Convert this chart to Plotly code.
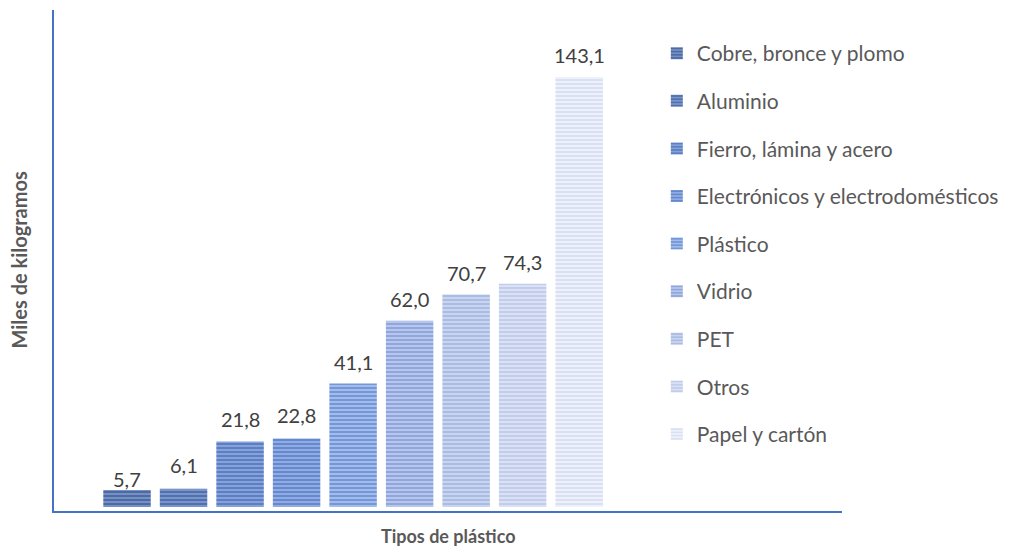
import plotly.graph_objects as go

# Materials and weights (thousands of kilograms)
categorias = [
    "Cobre, bronce y plomo",
    "Aluminio",
    "Fierro, lámina y acero",
    "Electrónicos y electrodomésticos",
    "Plástico",
    "Vidrio",
    "PET",
    "Otros",
    "Papel y cartón",
]
valores = [5.7, 6.1, 21.8, 22.8, 41.1, 62.0, 70.7, 74.3, 143.1]

# Stripe colours, dark to light blue
colores_linea = ["#25467F", "#284D92", "#2F5CAC", "#3666BD", "#4472C4",
                 "#6787CE", "#8CA2D9", "#AAB9E4", "#C6CFEE"]
colores_fondo = ["#768FC4", "#7B94CA", "#87A2D9", "#92ACE1", "#A3BCEB",
                 "#B7C6EA", "#C9D4EF", "#DAE1F4", "#EEF1FA"]
# vertical nudge of each value label (px)
desplaz_etiqueta = [-3, 10, 9, 9, 8, 8, 8, 8, 8]

FUENTE = "Lato"

fig = go.Figure()
for i, (cat, v) in enumerate(zip(categorias, valores)):
    fig.add_trace(go.Bar(
        x=[i], y=[v], name=cat, width=0.84,
        legendgroup=f"g{i}",
        marker=dict(
            color=colores_fondo[i],
            line=dict(width=0),
            pattern=dict(shape="-", fgcolor=colores_linea[i],
                         bgcolor=colores_fondo[i], size=4, solidity=0.5,
                         fillmode="overlay"),
        ),
        hoverinfo="skip",
    ))
    fig.add_annotation(
        x=i, y=v, text=f"{v:.1f}".replace(".", ","),
        showarrow=False, yanchor="bottom", yshift=desplaz_etiqueta[i],
        font=dict(family=FUENTE, size=20, color="#404040"),
    )

# Axis titles
fig.add_annotation(
    xref="paper", yref="paper", x=0, y=0.5, xshift=-36,
    xanchor="center", yanchor="middle",
    text="<b>Miles de kilogramos</b>", textangle=-90, showarrow=False,
    font=dict(family=FUENTE, size=20, color="#595959"),
)
fig.add_annotation(
    xref="paper", yref="paper", x=0.5, y=0, yshift=-25,
    xanchor="center", yanchor="middle",
    text="<b>Tipos de plástico</b>", showarrow=False,
    font=dict(family=FUENTE, size=18, color="#595959"),
)

fig.update_layout(
    width=1021, height=552,
    margin=dict(l=54, r=179, t=10, b=41),
    paper_bgcolor="white", plot_bgcolor="white",
    barmode="overlay",
    showlegend=True,
    legend=dict(
        x=0.765, y=0.954, xanchor="left", yanchor="top",
        font=dict(family=FUENTE, size=21, color="#595959"),
        tracegroupgap=17.3, bgcolor="rgba(0,0,0,0)",
    ),
    xaxis=dict(range=[-1.292, 12.65], showgrid=False, zeroline=False,
               showticklabels=False, ticks="", showline=True,
               linecolor="#4472C4", linewidth=2, fixedrange=True),
    yaxis=dict(range=[-1.33, 165.4], showgrid=False, zeroline=False,
               showticklabels=False, ticks="", showline=True,
               linecolor="#4472C4", linewidth=2, fixedrange=True),
)

fig.write_html("out.html")
